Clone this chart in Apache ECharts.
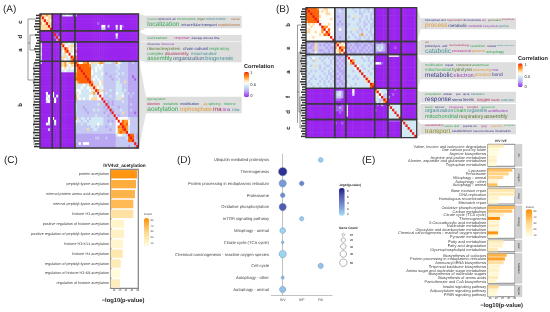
<!DOCTYPE html>
<html><head><meta charset="utf-8">
<style>html,body{margin:0;padding:0;background:#fff}#c{width:550px;height:312px;filter:blur(0.45px)}svg text{text-rendering:geometricPrecision}</style>
<script src="https://cdn.jsdelivr.net/npm/echarts@6/dist/echarts.min.js"></script></head>
<body><div id="c"></div>
<script>
// ---------- DATA ----------
const heatBlocksA = [6,4,7,31];
const heatA = [
"966766 0000 0445440 4 0000000 000000 000000 000000 000 00",
"696566 0000 0000000 0 0000000 000000 000000 000000 000 00",
"669665 0000 0000000 0 0000000 000000 000000 000000 000 00",
"756966 0000 0000000 0 0000000 000100 000000 000000 000 00",
"666696 0000 0000000 0 0000000 000005 503000 505100 000 00",
"666669 0000 0000000 0 0000000 000003 300000 305000 000 00",
"000000 9000 0000000 0 0000000 000000 000000 000000 000 00",
"000000 0910 0000000 0 0000000 000000 000000 500000 000 00",
"000000 0192 0000000 0 0000000 000000 000000 300000 000 00",
"000000 0029 0000000 0 0000000 000000 000000 000000 000 00",
"400000 0000 9644544 4 0000000 000000 000000 000000 000 00",
"500000 0000 6955466 4 0000000 000000 000000 000000 000 00",
"400000 0000 4697565 5 0000000 000000 000000 000000 000 00",
"400000 0000 4579645 7 0000000 000000 000000 000000 000 00",
"500000 0000 5465955 5 0000000 000000 000000 000000 000 00",
"400000 0000 4664597 7 0000000 000000 000000 000000 000 00",
"400000 0000 4654479 7 0000000 000000 000000 000000 000 00",
"400000 0000 6675677 9 7557785 664677 344433 754333 223 22",
"000000 0000 6674566 7 9888887 444545 333333 443333 222 22",
"000000 0000 5565455 5 8988888 445454 333333 343333 222 22",
"000000 0000 5454444 5 8898888 545444 333333 433333 222 22",
"000000 0000 0000000 7 8889888 544445 323333 343433 222 22",
"000000 0000 0000000 7 8888988 445444 333233 433333 221 22",
"000000 0000 0000000 8 8888898 454544 333323 343333 222 12",
"000000 0000 0000000 5 7888889 744456 333333 443363 222 22",
"000000 0000 0000000 6 4445447 964654 333333 444333 222 22",
"000000 0000 0000000 6 4454454 696545 333333 444333 222 22",
"000000 0000 0000000 4 5544445 469746 333433 444343 222 22",
"000500 5000 0000000 6 4544444 674955 343333 544433 323 22",
"000450 5040 0000000 7 5444445 544595 333433 444533 232 22",
"000540 0500 0000000 7 4545445 666559 333333 446333 222 22",
"000450 0500 0000000 3 3333333 333333 932323 333433 222 22",
"000000 0000 0000000 4 3333333 333433 392323 333333 232 22",
"000000 0000 0000000 4 3332333 333333 239333 323333 222 22",
"000000 0000 0000000 4 3333233 343433 323923 334333 232 22",
"000000 0000 0000000 3 3333323 333333 233293 333633 222 12",
"000000 0000 0000000 3 3333333 334333 332339 323333 222 22",
"000050 5000 0000000 7 4344343 444444 333333 955555 433 33",
"000050 0500 0000000 5 4434434 444444 332323 595877 533 33",
"000540 0400 0000000 4 3343344 444544 333433 559878 533 33",
"000000 0000 0000000 3 3333333 443433 323333 587987 433 33",
"000030 0000 0000000 3 3333363 344333 333233 577897 433 33",
"000000 0000 0000000 3 3333333 333333 333333 578779 433 33",
"000000 0000 0000000 2 2222222 222222 222222 455443 988 32",
"000000 0000 0000000 2 2222222 223322 232222 333334 898 32",
"000000 0000 0000000 3 2222222 222222 222222 333333 889 33",
"000000 0000 0000000 2 2525552 222222 222222 333333 333 92",
"000000 0000 0000000 2 2222222 222222 222222 333333 233 29"
];
const heatBlocksB = [13,5,13,6,6,7];
const heatB = [
"988887 5566555 33323 444344 3443343 000000 000000 0000000",
"898888 5656555 33433 444434 3434343 000000 000000 0000000",
"889888 5556655 33333 444444 3344433 000000 000000 0000000",
"888988 6555555 32333 434464 4343434 000000 000000 0000000",
"888898 5555565 33333 444344 3443433 000000 000000 0000000",
"788889 5555555 33233 444444 3434343 000000 000000 0000000",
"565655 9555655 32323 434443 4433433 000000 000000 0000000",
"556555 5977555 33333 344444 3434433 000000 000000 0000000",
"565555 5795855 33533 444464 3343434 000000 000000 0000000",
"665565 5759755 33333 343443 4344334 000000 000000 0000000",
"555555 6587955 33333 444344 3743433 000000 000000 0000000",
"555655 5555595 33233 434434 3434343 000000 000000 0000000",
"555555 5555559 33333 344443 3443343 000000 000000 0000000",
"223263 3332322 96756 223322 3233223 211211 100000 0000000",
"232263 2323233 69565 232322 2322322 233321 000000 0000000",
"322363 3332322 75977 223232 3223232 243421 000100 0000000",
"233263 2233232 56795 322323 2232322 234321 000000 0000000",
"223353 3323232 65759 232223 2323232 211111 000000 0000000",
"334444 4343434 32223 954444 4453434 000000 555551 0000000",
"443544 3434343 23232 595444 4344344 000000 000000 0000000",
"444364 4344434 22322 459744 4434343 000000 000000 0000000",
"344444 4434434 23232 447944 4444434 554100 000000 0000000",
"443464 3443344 22323 444495 4344344 000000 000000 0000000",
"444444 3434434 32232 444459 4434443 000000 000000 0000000",
"343434 4344343 23222 444344 9444344 000000 000000 0000000",
"434444 4434334 22322 444444 4944434 000000 000000 0000000",
"344344 3443433 23232 434434 4494444 000000 000000 0000000",
"443434 4343434 22232 444343 4449644 000000 000000 0000000",
"434444 3434343 23223 344444 4446944 000000 000000 0000000",
"343443 4434434 22322 444434 4444498 000000 000000 0000000",
"444344 3443434 23232 443444 4444489 000000 000000 0000000",
"000000 0000000 00000 000500 0000000 964442 000100 0000000",
"000000 0000000 23420 000500 0000000 695444 000000 0000000",
"000000 0000000 24420 000400 0000000 459533 001000 0000000",
"000000 0000000 23320 000000 0000000 445933 200000 0000000",
"000000 0000000 11100 000000 0000000 443397 000000 0000000",
"000000 0000000 00000 000000 0000000 243479 000000 0000000",
"000000 0000000 10010 500000 0000000 010200 944444 0000000",
"000000 0000000 11210 500000 0000000 000000 494444 0000000",
"000000 0000000 11110 500000 0000000 100000 449444 0000000",
"000000 0000000 00100 500000 0000000 000000 444944 0000000",
"000000 0000000 00000 500000 0000000 000000 444494 0000000",
"000000 0000000 00000 000000 0000000 000000 444449 0000000",
"000000 0000000 00000 000000 0000000 000000 111111 9444444",
"000000 0000000 10010 000000 0000000 000000 000000 4944444",
"000000 0000000 00000 000000 0000000 000000 000000 4494444",
"000000 0000000 00000 000000 0000000 000000 000000 4449444",
"000000 0000000 00000 000000 0000000 000000 000000 4444944",
"000000 0000000 00000 000000 0000000 000000 000000 4444494",
"000000 0000000 00000 000000 0000000 000000 000000 4444449"
];
const acetylTerms = ["protein acetylation","peptidyl-lysine acetylation","internal protein amino acid acetylation","internal peptidyl-lysine acetylation","histone H3 acetylation","positive regulation of histone acetylation","positive regulation of peptidyl-lysine acetylation","histone H3-K14 acetylation","histone H4 acetylation","regulation of peptidyl-lysine acetylation","regulation of histone H3-K9 acetylation","regulation of histone acetylation"];
const acetylP = [48.8,47.1,45.4,42.6,42.6,26.9,26.9,25.2,24.7,21.3,20.1,20.1];
const acetylCount = [52,44,42,40,24,12,14,11,20,18,7,16];
const keggD = ["Ubiquitin mediated proteolysis","Thermogenesis","Protein processing in endoplasmic reticulum","Proteasome","Oxidative phosphorylation","mTOR signaling pathway","Mitophagy - animal","Citrate cycle (TCA cycle)","Chemical carcinogenesis - reactive oxygen species","Cell cycle","Autophagy - other","Autophagy - animal"];
const groupsD = ["IVV","IVF","PA"];
const pointKegg = [0,1,2,2,3,4,5,6,7,8,9,10,11];
const pointGroup = [2,0,0,1,0,0,1,0,0,0,2,0,0];
const pointCount = [18,58,44,18,18,44,15,27,6,44,23,8,33];
const pointLog = [1.9,6,3.2,3.8,3.6,5,2,1.8,2.4,1.8,2.2,2.4,2.2];
const facetTerms = [
 ["Valine, leucine and isoleucine degradation","One carbon pool by folate","Arginine biosynthesis","Arginine and proline metabolism","Alanine, aspartate and glutamate metabolism","Tryptophan metabolism"],
 ["Lysosome","Peroxisome","Mitophagy - animal","Autophagy - other","Autophagy - animal"],
 ["Base excision repair","DNA replication","Homologous recombination","Mismatch repair"],
 ["Oxidative phosphorylation","Carbon metabolism","Citrate cycle (TCA cycle)","Thermogenesis","2-Oxocarboxylic acid metabolism","Nucleotide metabolism","Glyoxylate and dicarboxylate metabolism","Chemical carcinogenesis - reactive oxygen species","Pyruvate metabolism"],
 ["Fatty acid metabolism","Fatty acid degradation","Glycerophospholipid metabolism"],
 ["Biosynthesis of cofactors","Protein processing in endoplasmic reticulum","Aminoacyl-tRNA biosynthesis","Terpenoid backbone biosynthesis","Amino sugar and nucleotide sugar metabolism","Biosynthesis of nucleotide sugars","Biosynthesis of amino acids","Pantothenate and CoA biosynthesis"],
 ["Insulin signaling pathway","Adipocytokine signaling pathway","PPAR signaling pathway"]
];
const facetP = [
 [32,26,25,21,21,20],
 [46,40,31.5,23,22],
 [50,50,25,23],
 [50,46,32,26,25,24.5,24,23,22],
 [32,30.5,23],
 [37,34,32,26,25,24.5,23,20],
 [24,22,21]
];
const facetCount = [
 [18,8,6,12,14,8],
 [38,32,30,12,38],
 [20,18,12,8],
 [40,38,15,55,12,15,10,52,10],
 [16,14,18],
 [42,48,25,12,14,10,18,10],
 [28,12,8]
];
const facetNames = ["AA","Organ","Rep","Energy","Lipid","Metabol","Signal"];

// ---------- LAYOUT / STYLE ----------
const C = {g:'#35A853',n:'#3A3A8C',t:'#3F8F95',b:'#B8703A',o:'#E09A3A',c:'#B0305A',p:'#9A40B8',d:'#55752F',v:'#8A8A20',r:'#C03030',m:'#C040A0',u:'#4A6A90'};
const clouds = [
 {r:[146,15.7,95.7,12.6],rows:[
  [19,[["insertion",147.5,3.2,'g'],["telomeric",158.5,3.2,'n'],["ati",172,3.2,'n'],["chromosome",177,3.2,'g'],["organ",197,3.2,'d'],["mitochondrion",206,3.2,'t'],["cancer",231,3.2,'b']]],
  [24.5,[["localization",147.3,6.5,'g'],["intracellular",181.5,3.9,'n'],["transport",201.5,3.9,'n'],["establishment",218,3.9,'b']]]]},
 {r:[146,35,95.7,6.2],rows:[
  [38,[["oral/treatment",147.5,3.2,'g'],["response",174.5,3.7,'m'],["damage",191.5,3.2,'n'],["stimulus",203,3.2,'n'],["dna",214,3.2,'n']]]]},
 {r:[146,41.7,95.7,20.6],rows:[
  [44.3,[["ribosome",147.5,3,'n'],["ribosomal",161,3,'p']]],
  [48.8,[["ribonucleoprotein",147.3,4.3,'d'],["chain",183,4.3,'n'],["subunit",194.5,4.3,'n'],["respiratory",209,4.3,'g']]],
  [53.4,[["complex",147.3,4.3,'g'],["disassembly",165,4.3,'c'],["mitochondrial",191,4.3,'t']]],
  [59.2,[["assembly",147.3,6.2,'g'],["organization",173,6.2,'u'],["biogenesis",205.3,5.8,'t']]]]},
 {r:[146,96.7,95.7,16.6],rows:[
  [99.4,[["glycosylation",147.3,3.2,'g']]],
  [103.7,[["electron",147.3,3.6,'c'],["metabolic",163,3.6,'g'],["modification",180,3.6,'n'],["atp",203,3.6,'o'],["splicing",208.5,3.6,'g'],["histone",224,3.6,'g']]],
  [109.6,[["acetylation",147.3,6.5,'g'],["triphosphate",180,6.5,'o'],["rna",213,6,'c'],["trna",222.5,4.6,'p'],["rrna",232,4.2,'t']]]]},
 {r:[420.7,18.3,95.3,11],rows:[
  [20.3,[["triphosphate",425,2.9,'n'],["and",441,2.9,'n'],["regeneration",447,2.9,'c'],["ribonucleotide",463,2.9,'n'],["arp",482,2.9,'m'],["generation",488,2.9,'d'],["biosynthesis",502,2.9,'c']]],
  [25.7,[["process",425,7,'o'],["metabolic",448.3,4.8,'n'],["nucleotide",468,3.3,'p'],["biosynthetic",483,3.3,'p'],["purine",499.5,3.3,'t']]]]},
 {r:[420.7,40,95.3,15],rows:[
  [42.1,[["ast",425,2.6,'r']]],
  [45.8,[["proteolysis",425,3.2,'n'],["and",442,3.2,'n'],["macroautophagy",449,3.2,'c'],["catabolism",470,3.2,'g'],["cellular",487,3.2,'n'],["ubiquitin-dependent",497,2.6,'t']]],
  [51.2,[["catabolic",425,6.6,'t'],["proteasomal",451.7,4.1,'m'],["process",472,4.1,'o'],["autophagy",486,3.9,'g']]]]},
 {r:[420.7,62.3,95.3,17],rows:[
  [65.2,[["modification",425,3.4,'g'],["repair",445,3.4,'n'],["compound",456,3.4,'d'],["anatomical",472,3.4,'g']]],
  [69.9,[["mitochondrial",425,4.6,'g'],["hydrolysis",452,4.6,'d'],["processing",473,4.3,'o'],["rrna",491.5,3.6,'p']]],
  [75.9,[["metabolic",425,6.6,'n'],["electron",453.5,6,'p'],["process",474.5,5.6,'o'],["bond",492,4.8,'n']]]]},
 {r:[420.7,91.7,95.3,11],rows:[
  [93.8,[["endoplasmic",425,2.9,'g'],["cellular",443,2.9,'n'],["pus",456,2.9,'n'],["apoa",463,2.9,'n'],["translation",471,2.9,'t']]],
  [99.5,[["response",425,6.6,'n'],["stress",452,4.3,'n'],["levels",463,4.3,'n'],["oxygen",477,4.5,'c'],["insulin",491,3.2,'c'],["reduction",501,3.2,'t']]]]},
 {r:[420.7,104,95.3,16],rows:[
  [106.6,[["fusion",425,3,'g'],["tumour",435,3,'n'],["biogenesis",449,3,'m'],["complex",467,3,'c'],["lysosomal",481,3,'g']]],
  [111.4,[["organization",425,5.2,'t'],["chain",454,5.2,'g'],["organelle",467,5.2,'t'],["acidification",488,3.8,'p']]],
  [117.2,[["mitochondrial",425,5.8,'g'],["respiratory",459,5.6,'d'],["assembly",484,5.6,'d']]]]},
 {r:[420.7,124,95.3,10.3],rows:[
  [125.9,[["vascularization",425,2.9,'c'],["vesicle",444,2.9,'g'],["lipid",454,2.9,'g'],["peptide",463,2.9,'n'],["ion",473,2.9,'n'],["golgi",481,2.9,'m'],["secretion",491,2.9,'o'],["exocytosis",504,2.6,'g']]],
  [131.2,[["transport",425,6.4,'v'],["establishment",452,3.2,'n'],["transmembrane",473,3.2,'n'],["localization",495,3.2,'n']]]]}
];
const wedges = [
 [[139,14],[146,15.7],[146,28.3],[139,31.7]],
 [[139,31.7],[146,35],[146,41],[139,41.7]],
 [[139,41.7],[146,41.7],[146,62.3],[139,60]],
 [[139,60],[146,96.7],[146,113.3],[139,148]],
 [[417,7.7],[420.7,18.3],[420.7,29.3],[417,42.3]],
 [[417,42.3],[420.7,40],[420.7,55],[417,54.3]],
 [[417,54.3],[420.7,62.3],[420.7,79.3],[417,90]],
 [[417,90],[420.7,91.7],[420.7,102.7],[417,105.7]],
 [[417,105.7],[420.7,104],[420.7,120],[417,120]],
 [[417,120],[420.7,124],[420.7,134.3],[417,137.7]]
];
const dendroA = [[28,19,28,80],[28,19,36,19],[28,80,34,80],[34,63,34,145],[34,63,37,63],[34,145,37,145],[28,43,30,43],[30,35,30,50],[30,35,37,35],[30,50,36,50]];
const dendroB = [[297.5,25,297.5,123],[297.5,25,303,25],[297.5,92,299,92],[299,52,299,112],[299,52,301,52],[301,47,301,72],[301,47,303,47],[301,72,303,72],[299,112,300,112],[300,97,300,128],[300,97,302,97],[300,128,302,128],[301,105,301,114]];
const leavesA = "445565 3543 4565445 6 5767567 657565 675657 567567 576 56";
const leavesB = "455655 4565454 45546 456545 6545654 454554 545454 5454545";
const blockLabels = [["c",21,22],["d",21,36.7],["a",21,50],["b",21,105],["b",289,25],["e",289,48],["a",289,72],["f",289,97],["d",289,112],["c",289,128]];
const panelLabels = [["(A)",3,9],["(B)",276,9],["(C)",4,160],["(D)",177,160],["(E)",362,160]];
const corrColors = ['#9A24EE','#A860F0','#B8A6F2','#C4C8F2','#D2E8F4','#FFFDF8','#FFD9A0','#FF9A30','#FF6408','#EE1A10'];
const FONT = "'Liberation Sans',Arial,sans-serif";
const rectA = {l:40,t:14,w:98.5,h:134};
const rectB = {l:306,t:7.7,w:110.7,h:130};
const facetY = [[144.3,166.3],[168.3,186.7],[188.3,204],[205.7,238.3],[240,251.7],[253.3,283.3],[285,296.7]];

// ---------- BUILD ----------
const clean = s=>s.replace(/\s/g,'');
const grid=[],xAxis=[],yAxis=[],series=[],visualMap=[],graphic=[];
const measureCtx=document.createElement('canvas').getContext('2d');
measureCtx.font='100px '+FONT;
const emWidth=w=>measureCtx.measureText(w).width/100;
function T(text,x,y,size,fill,o={}){
 graphic.push({type:'text',silent:true,x:x,y:y,rotation:o.rot||0,z:20,style:{text:text,x:0,y:0,fill:fill,
  font:(o.bold?'bold ':'')+size+'px '+FONT,align:o.align||'left',verticalAlign:'middle'}});
}
function addHeat(rows,blocks,r){
 const g=grid.length, n=rows.length, cells=[];
 rows.map(clean).forEach((row,y)=>{for(let x=0;x<row.length;x++)cells.push([x,y,+row[x]/9]);});
 const cats=[...Array(n).keys()].map(String);
 grid.push({left:r.l,top:r.t,width:r.w,height:r.h,show:false});
 xAxis.push({type:'category',gridIndex:g,data:cats,show:false});
 yAxis.push({type:'category',gridIndex:g,data:cats,inverse:true,show:false});
 const si=series.length;
 series.push({type:'heatmap',xAxisIndex:g,yAxisIndex:g,data:cells,progressive:0,silent:true,itemStyle:{borderWidth:0}});
 // frames of the clusters, on an overlaid value-axis pair
 grid.push({left:r.l,top:r.t,width:r.w,height:r.h,show:false});
 xAxis.push({type:'value',gridIndex:g+1,min:0,max:n,show:false});
 yAxis.push({type:'value',gridIndex:g+1,min:0,max:n,inverse:true,show:false});
 const edges=[0]; blocks.forEach(b=>edges.push(edges[edges.length-1]+b));
 const fr=[]; for(let i=0;i<blocks.length;i++)for(let j=0;j<blocks.length;j++)fr.push([edges[j],edges[i],edges[j+1],edges[i+1]]);
 series.push({type:'custom',xAxisIndex:g+1,yAxisIndex:g+1,data:fr,silent:true,z:5,clip:false,renderItem:(p,api)=>{
   const a=api.coord([api.value(0),api.value(1)]),b=api.coord([api.value(2),api.value(3)]);
   return {type:'rect',shape:{x:a[0],y:a[1],width:b[0]-a[0],height:b[1]-a[1]},style:{fill:'rgba(0,0,0,0)',stroke:'#3A3A3A',lineWidth:1.3}};
 }});
 return si;
}
const sA=addHeat(heatA,heatBlocksA,rectA), sB=addHeat(heatB,heatBlocksB,rectB);
visualMap.push({show:true,type:'continuous',seriesIndex:[sA],min:0,max:1,dimension:2,calculable:false,showLabel:false,text:null,padding:0,itemWidth:5,itemHeight:25.6,left:244,top:71.7,inRange:{color:corrColors}});
visualMap.push({show:true,type:'continuous',seriesIndex:[sB],min:0,max:1,dimension:2,calculable:false,text:null,padding:0,itemWidth:4.7,itemHeight:24,left:518,top:63.3,inRange:{color:corrColors}});
// panel C
const ORANGE=['#FFFFE0','#FFD890','#FF8C00'];
const barAxis=(g,min,max,show,size,r)=>({type:'value',gridIndex:g,min:min,max:max,splitLine:{show:false},axisLine:{show:false},
  axisTick:{show:show,length:1.2,lineStyle:{color:'#555',width:.4},customValues:[10,20,30,40,50]},
  axisLabel:{show:show,fontSize:size,margin:1.2,color:'#333',fontFamily:FONT,customValues:[10,20,30,40,50]}});
let g=grid.length;
grid.push({left:110.7,top:169.3,width:27.6,height:119,show:true,backgroundColor:'#fff',borderColor:'#8A8A8A',borderWidth:1.3});
xAxis.push(barAxis(g,4.4,51,true,2.4));
yAxis.push({type:'category',gridIndex:g,data:acetylTerms,inverse:true,axisLine:{show:false},axisTick:{show:false},
  axisLabel:{interval:0,fontSize:3.75,margin:1.5,color:'#444',fontFamily:FONT}});
const sC=series.length;
series.push({type:'bar',xAxisIndex:g,yAxisIndex:g,barWidth:'84%',silent:true,encode:{x:0,y:1},data:acetylP.map((v,i)=>[v,acetylTerms[i],acetylCount[i]])});
visualMap.push({show:true,type:'continuous',seriesIndex:[sC],dimension:2,min:5,max:55,calculable:false,text:null,padding:0,itemWidth:5,itemHeight:28,left:144,top:218,inRange:{color:ORANGE}});
// panel D
g=grid.length;
grid.push({left:271.3,top:154,width:60.8,height:141.3,show:false});
xAxis.push({type:'value',gridIndex:g,min:-0.6,max:2.6,splitLine:{show:false},axisLine:{show:true,lineStyle:{color:'#999',width:.6}},axisTick:{show:false,customValues:[0,1,2]},
  axisLabel:{customValues:[0,1,2],formatter:v=>groupsD[v],fontSize:3.7,margin:2.2,color:'#444',fontFamily:FONT}});
yAxis.push({type:'category',gridIndex:g,data:keggD,inverse:true,axisLine:{show:true,lineStyle:{color:'#999',width:.6}},axisTick:{show:false},
  axisLabel:{interval:0,fontSize:4.15,margin:2.3,color:'#444',fontFamily:FONT}});
const sD=series.length;
series.push({type:'scatter',xAxisIndex:g,yAxisIndex:g,silent:true,encode:{x:0,y:1},
  data:pointKegg.map((k,i)=>[pointGroup[i],keggD[k],pointCount[i],pointLog[i]]),
  symbolSize:d=>Math.sqrt(d[2])*1.1,itemStyle:{borderColor:'#6C8FB0',borderWidth:.5,opacity:1}});
visualMap.push({show:true,type:'continuous',seriesIndex:[sD],dimension:3,min:1.5,max:6.5,calculable:false,text:null,padding:0,itemWidth:5.7,itemHeight:27.7,left:339,top:188,inRange:{color:['#A4E2F8','#85A8E0','#6A7CC8','#4E50B0','#1A1A80']}});
// panel E
const sE=[];
facetTerms.forEach((terms,i)=>{
 const gi=grid.length,[y0,y1]=facetY[i],last=i===facetTerms.length-1;
 grid.push({left:487.7,top:y0,width:27.3,height:y1-y0,show:true,backgroundColor:'#fff',borderColor:'#555',borderWidth:.7});
 xAxis.push(barAxis(gi,6.3,50.3,last,2.4));
 yAxis.push({type:'category',gridIndex:gi,data:terms,inverse:true,axisLine:{show:false},axisTick:{show:false},
   axisLabel:{interval:0,hideOverlap:false,fontSize:3.9,margin:1.5,color:'#444',fontFamily:FONT}});
 sE.push(series.length);
 series.push({type:'bar',xAxisIndex:gi,yAxisIndex:gi,barWidth:'84%',silent:true,encode:{x:0,y:1},data:facetP[i].map((v,k)=>[v,terms[k],facetCount[i][k]])});
 graphic.push({type:'rect',silent:true,shape:{x:515.2,y:y0,width:6.8,height:y1-y0},style:{fill:'#D2D2D2',stroke:'#BDBDBD',lineWidth:.3},z:19});
 T(facetNames[i],518.6,(y0+y1)/2,2.8,'#222',{align:'center',rot:-Math.PI/2});
});
visualMap.push({show:true,type:'continuous',seriesIndex:sE,dimension:2,min:5,max:55,calculable:false,text:null,padding:0,itemWidth:6.6,itemHeight:26.7,left:525.7,top:209.3,inRange:{color:ORANGE}});
// clouds, wedges
wedges.forEach(w=>graphic.push({type:'polygon',silent:true,shape:{points:w},style:{fill:'#E2E2E2'},z:1}));
clouds.forEach(cl=>{
 graphic.push({type:'rect',silent:true,shape:{x:cl.r[0],y:cl.r[1],width:cl.r[2],height:cl.r[3]},style:{fill:'#DEDEDE'},z:2});
 const right=cl.r[0]+cl.r[2]-0.8;
 cl.rows.forEach(([y,ws])=>ws.forEach(([w,x,s,c],i)=>{
   // shrink a word so that it stops before the next word of its row
   const limit=(i+1<ws.length?ws[i+1][1]:right)-x-0.7;
   T(w,x,y,Math.min(s,limit/emWidth(w)),C[c]);
 }));
});
// dendrograms
const seg=(a,w)=>graphic.push({type:'line',silent:true,shape:{x1:a[0],y1:a[1],x2:a[2],y2:a[3]},style:{stroke:'#333',lineWidth:w},z:3});
dendroA.forEach(s=>seg(s,.5)); dendroB.forEach(s=>seg(s,.5));
clean(leavesA).split('').forEach((d,i)=>{const y=rectA.t+(i+.5)*rectA.h/heatA.length;seg([rectA.l-(+d),y,rectA.l,y],1.5);});
clean(leavesB).split('').forEach((d,i)=>{const y=rectB.t+(i+.5)*rectB.h/heatB.length;seg([rectB.l-(+d),y,rectB.l,y],1.5);});
// labels
blockLabels.forEach(([t,x,y])=>T(t,x,y,6,'#222',{bold:true,align:'center',rot:Math.PI/2}));
panelLabels.forEach(([t,x,y])=>T(t,x,y,10,'#222'));
T('Correlation',244,67.3,5.6,'#222',{bold:true});
[['1',72.7],['0.5',84.7],['0',95.7]].forEach(([t,y])=>T(t,250.3,y,4.2,'#333'));
T('Correlation',518,59.3,5.6,'#222',{bold:true});
[['1',64.3],['0.5',76],['0',86.7]].forEach(([t,y])=>T(t,524.5,y,4.2,'#333'));
T('IVV4v2_acetylation',124.5,165.3,4.7,'#222',{bold:true,align:'center'});
T('\u2212log10(p-value)',123,300.7,5.8,'#222',{bold:true,align:'center'});
T('\u2212log10(p-value)',501.5,305.7,5.8,'#222',{bold:true,align:'center'});
T('IVV IVF',501,140.5,3.4,'#222',{bold:true,align:'center'});
T('Count',144,214.3,3,'#333');
[['50',220],['40',226],['30',231.5],['20',237],['10',243]].forEach(([t,y])=>T(t,150.5,y,2.6,'#333'));
T('Count',525.7,206.5,3,'#333');
[['50',211.7],['40',217.5],['30',223.2],['20',229],['10',235]].forEach(([t,y])=>T(t,533.5,y,2.6,'#333'));
T('-log10(p-value)',339,185,3.1,'#222',{bold:true});
[['6',191],['5',197],['4',202.5],['3',208.5],['2',213.5]].forEach(([t,y])=>T(t,347,y,2.9,'#333',{bold:true}));
T('Gene Count',339,228,3.3,'#222',{bold:true});
[['10',234.7,2.6],['20',240,4.4],['30',246.5,5.6],['40',254,6.6],['50',262.7,7.4]].forEach(([t,y,d])=>{
 graphic.push({type:'circle',silent:true,shape:{cx:343.3,cy:y,r:d/2},style:{fill:'#fff',stroke:'#666',lineWidth:.5},z:20});
 T(t,350,y,2.9,'#333',{bold:true});
});

echarts.init(document.getElementById('c'),null,{renderer:'svg'}).setOption({animation:false,backgroundColor:'#fff',textStyle:{fontFamily:FONT},grid,xAxis,yAxis,series,visualMap,graphic});
</script></body></html>
